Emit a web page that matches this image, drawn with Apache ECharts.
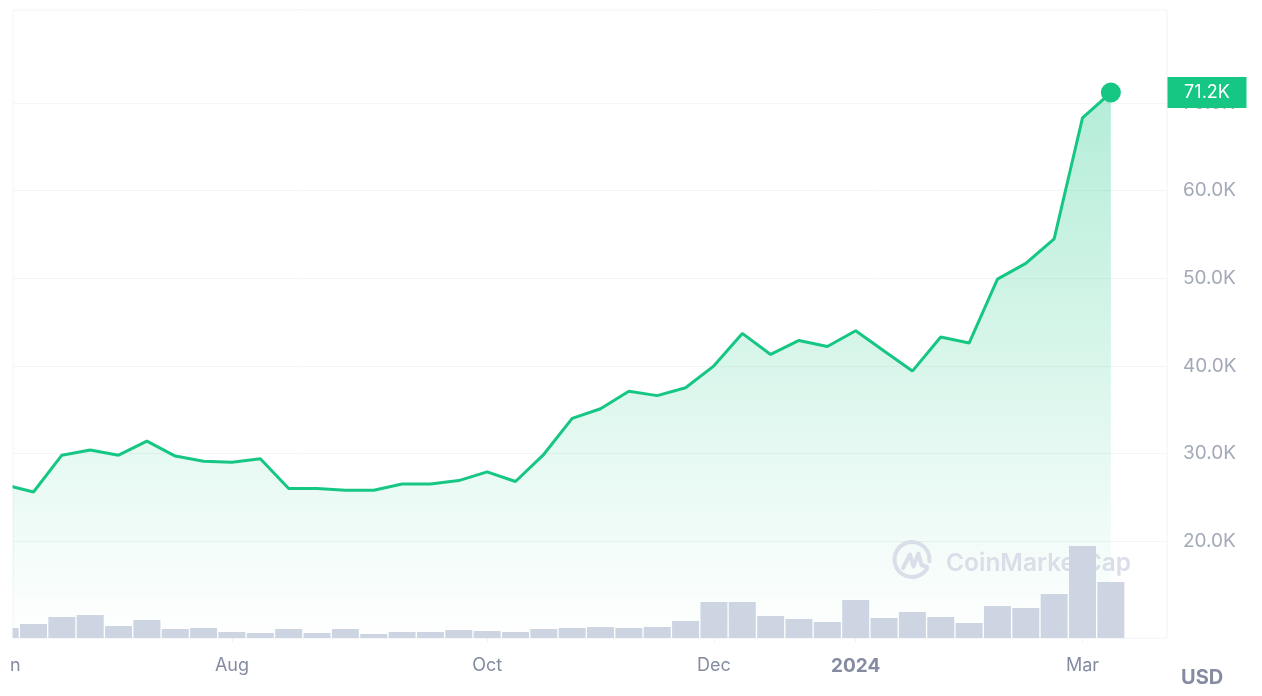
<!DOCTYPE html>
<html>
<head>
<meta charset="utf-8">
<title>Price chart</title>
<script src="https://cdn.jsdelivr.net/npm/echarts@6/dist/echarts.min.js"></script>
<style>
    html, body { margin: 0; padding: 0; background: #fff; }
    #chart { width: 1262px; height: 696px; }
</style>
</head>
<body>
<div id="chart"></div>
<script>
// price in thousands of USD, one point a week
const prices = [26.4, 25.6, 29.8, 30.4, 29.8, 31.4, 29.7, 29.1, 29.0, 29.4,
    26.0, 26.0, 25.8, 25.8, 26.5, 26.5, 26.9, 27.9, 26.8, 29.9,
    34.0, 35.1, 37.1, 36.6, 37.5, 40.0, 43.7, 41.3, 42.9, 42.2,
    44.0, 41.7, 39.4, 43.3, 42.6, 49.9, 51.7, 54.5, 68.3, 71.2];
// volume, same weeks
const volumes = [10, 14, 21, 23, 12, 18, 9, 10, 6, 5,
    9, 5, 9, 4, 6, 6, 8, 7, 6, 9,
    10, 11, 10, 11, 17, 36, 36, 22, 19, 16,
    38, 20, 26, 21, 15, 32, 30, 44, 92, 56];
const monthTicks = [8, 17, 25, 30, 38];
const monthLabels = ['Aug', 'Oct', 'Dec', '2024', 'Mar'];
const cutLabelAt = 0.36;   // first label is cut by the chart edge, only its last letter shows
const cutLabel = 'n';
const priceTicks = [20, 30, 40, 50, 60, 70];
const lastPrice = 71.2;
const lastPriceLabel = '71.2K';

const myChart = echarts.init(document.getElementById('chart'));
const FONT = 'Inter';
const GREEN = '#16c784';
const MARK = '#d9dee8';

const pricePoints = prices.map((v, i) => [i, v]);
const volumePoints = volumes.map((v, i) => [i, v]);

let option = {
    backgroundColor: '#fff',
    animation: false,
    grid: {
        left: 13,
        right: 95,
        top: 10,
        bottom: 58,
        show: true,
        borderColor: '#eff2f5',
        borderWidth: 1
    },
    xAxis: {
        type: 'value',
        min: 0.277,
        max: 40.98,
        splitLine: { show: false },
        axisLine: { show: false },
        axisTick: {
            show: true,
            customValues: monthTicks,
            length: 4,
            lineStyle: { color: '#eff2f5' }
        },
        axisLabel: {
            customValues: [cutLabelAt].concat(monthTicks),
            margin: 19,
            color: '#858ca2',
            fontFamily: FONT,
            fontSize: 18,
            showMinLabel: true,
            formatter: function (v) {
                if (v === cutLabelAt) return cutLabel;
                const txt = monthLabels[monthTicks.indexOf(v)];
                return txt === '2024' ? '{b|' + txt + '}' : txt;
            },
            rich: {
                b: { fontFamily: FONT, fontSize: 19, fontWeight: 700, color: '#858ca2' }
            }
        }
    },
    yAxis: [{
        type: 'value',
        min: 8.93,
        max: 80.62,
        position: 'right',
        axisLine: { show: false },
        axisTick: { show: false, customValues: priceTicks },
        splitLine: { lineStyle: { color: '#f3f5f8', width: 1 } },
        axisLabel: {
            customValues: priceTicks,
            margin: 16,
            color: '#a3a9b8',
            fontFamily: FONT,
            fontSize: 19,
            padding: [2, 0, 0, 0],
            formatter: v => v.toFixed(1) + 'K'
        }
    }, {
        // volume, only the bars use it
        type: 'value',
        min: 0,
        max: 628,
        show: false,
        splitLine: { show: false }
    }, {
        // tag with the last price, same scale as the price axis
        type: 'value',
        min: 8.93,
        max: 80.62,
        position: 'right',
        axisLine: { show: false },
        axisTick: { show: false, customValues: [lastPrice] },
        splitLine: { show: false },
        z: 10,
        axisLabel: {
            customValues: [lastPrice],
            margin: 40,
            color: '#fff',
            fontFamily: FONT,
            fontSize: 18,
            backgroundColor: GREEN,
            width: 79,
            height: 31,
            lineHeight: 31,
            align: 'center',
            formatter: () => lastPriceLabel
        }
    }],
    series: [{
        type: 'line',
        data: pricePoints,
        symbol: 'none',
        silent: true,
        z: 2,
        lineStyle: { color: GREEN, width: 3 },
        areaStyle: {
            origin: 'start',
            opacity: 1,
            color: new echarts.graphic.LinearGradient(0, 0, 0, 1, [
                { offset: 0, color: 'rgba(22,199,132,.32)' },
                { offset: 1, color: 'rgba(22,199,132,0)' }
            ])
        }
    }, {
        type: 'bar',
        yAxisIndex: 1,
        data: volumePoints,
        barWidth: 27,
        silent: true,
        z: 4,
        itemStyle: { color: '#cdd5e2' }
    }, {
        type: 'scatter',
        data: [pricePoints[pricePoints.length - 1]],
        symbolSize: 20,
        silent: true,
        z: 5,
        itemStyle: { color: GREEN, opacity: 1 }
    }],
    graphic: [{
        // hides what runs past the left edge of the plot
        type: 'rect',
        z: 6,
        shape: { x: 0, y: 0, width: 12.5, height: 640 },
        style: { fill: '#fff' }
    }, {
        type: 'text',
        left: 1181,
        top: 668,
        style: { text: 'USD', fill: '#858ca2', font: '700 20px Inter' }
    }, {
        type: 'text',
        z: 3,
        left: 946,
        top: 551,
        style: { text: 'CoinMarketCap', fill: MARK, font: '600 24.5px Inter' }
    }, {
        type: 'arc',
        z: 3,
        shape: { cx: 912, cy: 559.5, r: 17.5, startAngle: 0.55, endAngle: 0.1 + Math.PI * 2, clockwise: true },
        style: { stroke: MARK, lineWidth: 4, fill: null, lineCap: 'round' }
    }, {
        type: 'polyline',
        z: 3,
        shape: { points: [[903, 568], [910, 554.5], [913.5, 566.5], [918.5, 553.5], [921.5, 565], [927, 567]] },
        style: { stroke: MARK, lineWidth: 4, fill: null, lineJoin: 'round', lineCap: 'round' }
    }]
};
myChart.setOption(option);
</script>
</body>
</html>
